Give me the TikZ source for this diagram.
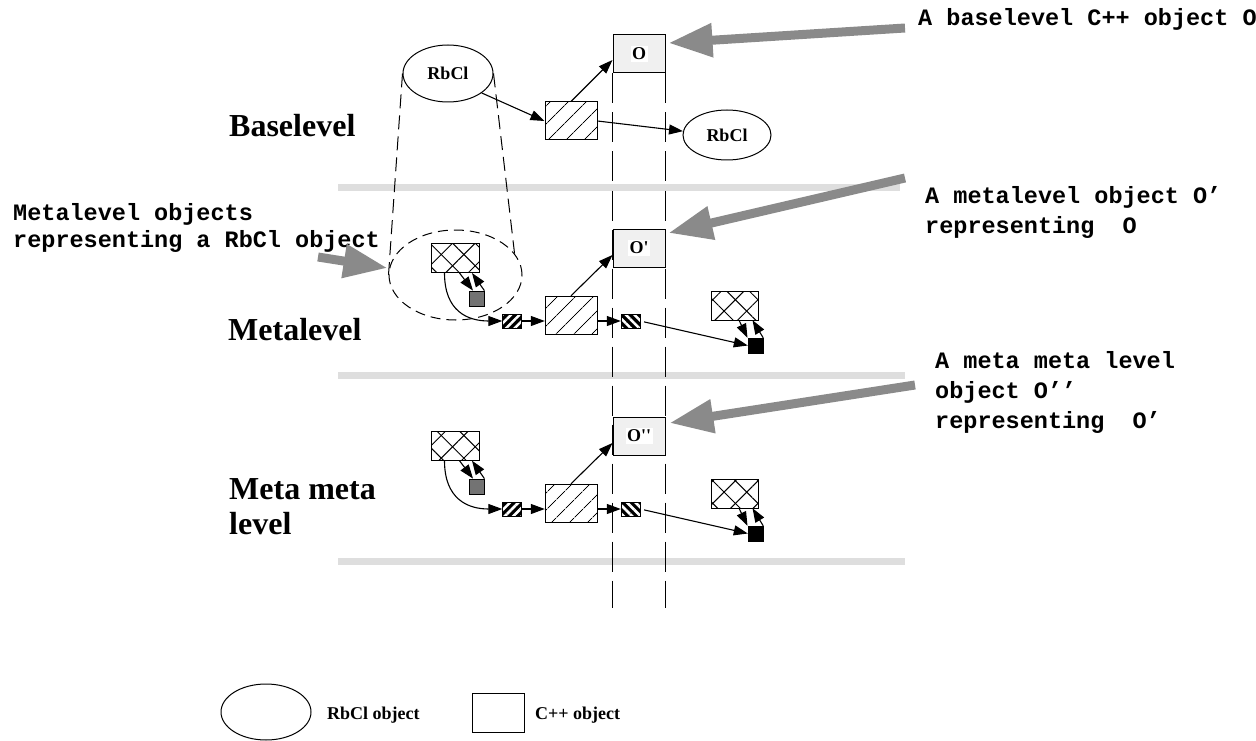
\documentclass[tikz,border=0pt]{standalone}
\usepackage{fontspec}
\setmainfont{Liberation Serif}
\newfontfamily\notemono{Liberation Mono}
\usetikzlibrary{arrows.meta,patterns.meta,shapes.geometric}

\newcommand\objlabel[1]{{\setlength\fboxsep{1.5pt}\colorbox{white}{#1}}}
\newcommand\metarow[2]{
  \node[cppbox] (ob#1) at (639,248) {\objlabel{#2}};
  \node[crossbox] (cl#1) at (455,258) {};
  \node[graysq] (sq#1) at (476.5,298.5) {};
  \node[stripebox] (sa#1) at (512,321) {};
  \node[hatchbox] (hb#1) at (571,315) {};
  \node[stripebox, stripe angle=-45] (sb#1) at (630.5,321) {};
  \node[crossbox, minimum width=47pt] (cr#1) at (734.5,305.5) {};
  \node[blacksq] (bq#1) at (755.5,345.5) {};
  \draw[objarrow] ([xshift=4.5pt]cl#1.south) -- ([xshift=-3.5pt]sq#1.north);
  \draw[objarrow] (sq#1.north east) -- ([xshift=17pt]cl#1.south);
  \draw[objarrow] ([xshift=-10.5pt]cl#1.south) .. controls +(0,38) and +(-35,0) .. (sa#1.west);
  \draw[objarrow] (sa#1.east) -- (sa#1.east -| hb#1.west);
  \draw[objarrow] (hb#1.north) -- ([yshift=-7pt]ob#1.west);
  \draw[objarrow] (hb#1.east |- sb#1.west) -- (sb#1.west);
  \draw[objarrow, shorten <=4pt] (sb#1.east) -- (bq#1.west);
  \draw[objarrow] ([xshift=4.5pt]cr#1.south) -- ([xshift=-8pt]bq#1.north);
  \draw[objarrow] (bq#1.north east) -- ([xshift=18pt]cr#1.south);
}

\tikzset{
  levelname/.style={font=\fontsize{32}{35}\selectfont\bfseries, anchor=base west, inner sep=0pt},
  note/.style={font=\notemono\bfseries\fontsize{23.5}{30}\selectfont, align=left, anchor=north west, inner sep=0pt},
  keytext/.style={font=\fontsize{18}{20}\selectfont\bfseries, anchor=base west, inner sep=0pt},
  levelbar/.style={draw=black!13, line width=7pt},
  vline/.style={line width=1pt, dash pattern=on 30pt off 9pt},
  cyl/.style={line width=1pt, dash pattern=on 14pt off 7pt},
  rbcl/.style={ellipse, draw, line width=1pt, minimum width=90pt, minimum height=57pt, inner sep=0pt,
    font=\fontsize{18}{20}\selectfont\bfseries},
  group/.style={ellipse, draw, line width=1pt, dash pattern=on 10pt off 6pt, minimum width=133pt, minimum height=90pt},
  cppbox/.style={draw, line width=1pt, fill=black!6, minimum width=52pt, minimum height=38pt, inner sep=0pt,
    font=\fontsize{18}{20}\selectfont\bfseries},
  hatchbox/.style={minimum width=52pt, minimum height=38pt, inner sep=0pt,
    pattern={Lines[angle=45,distance=13pt,line width=1pt]}, postaction={draw, line width=1pt}},
  crossbox/.style={minimum width=48pt, minimum height=29pt, inner sep=0pt,
    pattern={Lines[angle=45,distance=16pt,line width=1pt]},
    postaction={pattern={Lines[angle=-45,distance=16pt,line width=1pt]}},
    postaction={draw, line width=1pt}},
  stripe angle/.store in=\stripeangle, stripe angle=45,
  stripebox/.style={minimum width=19pt, minimum height=14pt, inner sep=0pt, fill=black,
    postaction={pattern={Lines[angle=\stripeangle,distance=6pt,line width=2.5pt]}, pattern color=white},
    postaction={draw, line width=1pt}},
  graysq/.style={draw, line width=0.8pt, fill=black!55, minimum size=15pt, inner sep=0pt},
  blacksq/.style={draw, fill=black, minimum size=15pt, inner sep=0pt},
  objarrow/.style={-{Triangle[length=14pt,width=10pt]}, line width=1.1pt},
  bigarrow/.style={draw=black!46, line width=9pt, -{Triangle[length=44pt,width=32pt]}},
}

\begin{document}
\begin{tikzpicture}[x=1pt, y=-1pt]
  \useasboundingbox (0,0) rectangle (1256,741);
  \draw[levelbar] (338,187) -- (900,187);
  \draw[levelbar] (338,375) -- (905,375);
  \draw[levelbar] (338,561) -- (905,561);

  \node[levelname] (base) at (229,137) {Baselevel};
  \node[levelname] (meta) at (228,340) {Metalevel};
  \node[levelname, align=left, anchor=north west] (metameta) at (229,478) {Meta meta\\level};

  % baselevel
  \node[cppbox] (ob0) at (639,54) {\objlabel{O}};
  \node[hatchbox] (hb0) at (571,121) {};
  \node[rbcl] (rb) at (448,73.5) {RbCl};
  \node[rbcl, minimum width=88pt, minimum height=50pt] (rbr) at (727,135) {RbCl};
  \node[group] (grp) at (455.5,275) {};
  \draw[objarrow] (rb.-30) -- (hb0.west);
  \draw[objarrow] (hb0.north) -- ([yshift=-6pt]ob0.west);
  \draw[objarrow] (hb0.east) -- (rbr.175);
  \draw[cyl] (rb.west) -- (grp.west);
  \draw[cyl] (rb.east) -- (grp.20);

  % metalevel and meta meta level
  \metarow{1}{O\textquotesingle}
  \begin{scope}[shift={(0,188)}]
    \metarow{2}{O\textquotesingle\textquotesingle}
  \end{scope}

  \coordinate (vbottom) at (0,608);
  \draw[vline] (ob0.south west) -- (ob0.south west |- vbottom);
  \draw[vline] (ob0.south east) -- (ob0.south east |- vbottom);

  % notes
  \node[note, anchor=base west] (note0) at (918,26) {A baselevel C++ object O};
  \node[note] (note1) at (925,186) {A metalevel object O’\\representing\ \ O};
  \node[note] (note2) at (935,351) {A meta meta level\\object O’’\\representing\ \ O’};
  \node[note, font=\notemono\bfseries\fontsize{23.5}{27}\selectfont] (note3) at (13,203)
    {Metalevel objects\\representing a RbCl object};
  \coordinate (tail0) at (905,28);
  \coordinate (tail1) at (905,178);
  \coordinate (tail2) at (915,385);
  \coordinate (tail3) at (318,257);
  \draw[bigarrow] (tail0) -- ([xshift=3pt,yshift=11pt]ob0.east);
  \draw[bigarrow] (tail1) -- ([xshift=3pt,yshift=15pt]ob1.east);
  \draw[bigarrow] (tail2) -- ([xshift=4pt,yshift=13pt]ob2.east);
  \draw[bigarrow] (tail3) -- ([xshift=-1pt,yshift=7pt]grp.west);

  % key
  \node[rbcl, minimum width=90pt, minimum height=56pt] (keyrb) at (266,712) {};
  \node[keytext] (keyrbtext) at (327,719) {RbCl object};
  \node[draw, line width=1pt, minimum width=52pt, minimum height=39pt] (keycpp) at (498,712.5) {};
  \node[keytext] (keycpptext) at (535,719) {C++ object};
\end{tikzpicture}
\end{document}
